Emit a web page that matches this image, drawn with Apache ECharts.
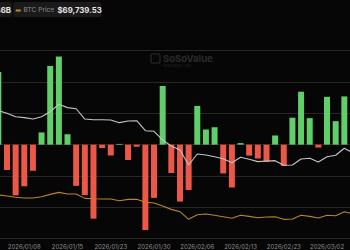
<!DOCTYPE html>
<html>
<head>
<meta charset="utf-8">
<script src="https://cdn.jsdelivr.net/npm/echarts@6/dist/echarts.min.js"></script>
<style>
  html, body { margin: 0; padding: 0; background: #060606; overflow: hidden; width: 350px; height: 250px; }
  #chart { position: absolute; left: -60px; top: 0; width: 430px; height: 250px; }
</style>
</head>
<body>
<div id="chart"></div>
<script>
// Trading days (category axis)
const dates = [
  '2026/01/05','2026/01/06','2026/01/07','2026/01/08','2026/01/09',
  '2026/01/12','2026/01/13','2026/01/14','2026/01/15','2026/01/16',
  '2026/01/20','2026/01/21','2026/01/22','2026/01/23',
  '2026/01/26','2026/01/27','2026/01/28','2026/01/29','2026/01/30',
  '2026/02/02','2026/02/03','2026/02/04','2026/02/05','2026/02/06',
  '2026/02/09','2026/02/10','2026/02/11','2026/02/12','2026/02/13',
  '2026/02/17','2026/02/18','2026/02/19','2026/02/20',
  '2026/02/23','2026/02/24','2026/02/25','2026/02/26','2026/02/27',
  '2026/03/02','2026/03/03','2026/03/04','2026/03/05'
];
// Daily total net inflow, $M
const netInflow = [
  697, -243, -486, -399, -250,
  117, 754, 844, 100, -395,
  -483, -709, -32, -104,
  7, -147, -20, -818, -510,
  562, -272, -545, -434, 371,
  145, 167, -276, -410, 15,
  -105, -133, -166, 88,
  -204, 258, 507, 254, -28,
  458, 225, 462, -228
];
// Total net assets, $B
const totalNetAssets = [
  122.0, 120.0, 117.6, 116.9, 115.9,
  117.6, 121.2, 126.5, 124.1, 123.3,
  115.9, 115.4, 115.4, 115.2,
  113.3, 114.5, 114.7, 107.5, 107.1,
  100.8, 96.5, 93.7, 82.9, 90.8,
  90.1, 88.8, 87.4, 84.5, 88.4,
  87.0, 85.3, 85.8, 86.0,
  82.7, 82.9, 87.2, 87.7, 85.0,
  88.8, 89.9, 94.9, 91.5
];
// BTC price, $
const btcPrice = [
  93400, 91900, 90300, 89400, 89400,
  91000, 94000, 96500, 94400, 94400,
  89000, 88500, 88200, 88200,
  86100, 87800, 87800, 84100, 83200,
  79500, 75300, 72400, 62900, 68600,
  69500, 67900, 66100, 64200, 67900,
  66600, 64900, 65800, 66100,
  62900, 63300, 67900, 66600, 64500,
  67900, 67400, 72400, 69740
];
const yTicks = { min: -900, max: 900, interval: 300 };

const chart = echarts.init(document.getElementById('chart'), null, { renderer: 'svg' });
const FONT = 'Inter, Roboto, sans-serif';

chart.setOption({
  backgroundColor: '#060606',
  animation: false,
  textStyle: { fontFamily: FONT },
  grid: { left: 54, right: 12.7, top: 50.7, bottom: 11.4, containLabel: false },
  xAxis: {
    type: 'category',
    data: dates,
    boundaryGap: true,
    axisLine: { show: false, onZero: false },
    axisTick: { show: false },
    axisLabel: {
      color: '#8e8e8e', fontSize: 6, margin: 5, fontFamily: FONT,
      interval: (idx) => idx >= 3 && (idx - 3) % 5 === 0
    },
    splitLine: { show: false }
  },
  yAxis: [
    {
      type: 'value', min: yTicks.min, max: yTicks.max, interval: yTicks.interval,
      axisLabel: { show: false }, axisLine: { show: false }, axisTick: { show: false },
      splitLine: { lineStyle: { color: '#262626', width: 1 } }
    },
    {
      type: 'value', min: 30, max: 165, show: false, splitLine: { show: false }
    },
    {
      type: 'value', min: 38900, max: 272900, show: false, splitLine: { show: false }
    }
  ],
  series: [
    {
      name: 'Total Net Inflow', type: 'bar', yAxisIndex: 0, barWidth: 6, z: 2,
      data: netInflow.map(v => ({ value: v, itemStyle: { color: v >= 0 ? '#60cf6a' : '#ec5847' } }))
    },
    {
      name: 'Total Net Assets', type: 'line', yAxisIndex: 1, data: totalNetAssets, z: 3,
      showSymbol: false, symbol: 'none', lineStyle: { color: '#c4c4c4', width: 1.1 }
    },
    {
      name: 'BTC Price', type: 'line', yAxisIndex: 2, data: btcPrice, z: 3,
      showSymbol: false, symbol: 'none', lineStyle: { color: '#b9852a', width: 1.1 }
    }
  ],
  graphic: [
    // legend item (cut off on the left)
    { type: 'rect', shape: { x: 0, y: 2, width: 72, height: 15, r: 2 }, style: { fill: '#1a1a1a' } },
    { type: 'text', x: 71, y: 10, style: {
        text: '{a|Total Net Assets} {b|$91.46B}', align: 'right', verticalAlign: 'middle',
        rich: { a: { fill: '#8c8c8c', fontSize: 6.6, fontFamily: FONT }, b: { fill: '#e6e6e6', fontSize: 7.8, fontWeight: 'bold', fontFamily: FONT } }
    } },
    // BTC price legend item
    { type: 'rect', shape: { x: 73.3, y: 2, width: 88, height: 15, r: 2 }, style: { fill: '#1a1a1a' } },
    { type: 'rect', shape: { x: 75.7, y: 9.5, width: 5, height: 2 }, style: { fill: '#c08a22' } },
    { type: 'text', x: 83.5, y: 10, style: {
        text: '{a|BTC Price} {b|$69,739.53}', verticalAlign: 'middle',
        rich: { a: { fill: '#8c8c8c', fontSize: 6.6, fontFamily: FONT }, b: { fill: '#e6e6e6', fontSize: 7.8, fontWeight: 'bold', fontFamily: FONT } }
    } },
    // watermark
    { type: 'rect', shape: { x: 211, y: 54, width: 9, height: 9, r: 1 }, style: { fill: 'none', stroke: '#2a2a2a', lineWidth: 1.2 } },
    { type: 'text', x: 223, y: 58, style: { text: 'SoSoValue', fill: '#2c2c2c', fontSize: 9.5, fontWeight: 'bold', fontFamily: FONT, verticalAlign: 'middle' } },
    { type: 'text', x: 223, y: 65, style: { text: 'sosovalue.com', fill: '#242424', fontSize: 4, fontFamily: FONT, verticalAlign: 'middle' } }
  ]
});
</script>
</body>
</html>
